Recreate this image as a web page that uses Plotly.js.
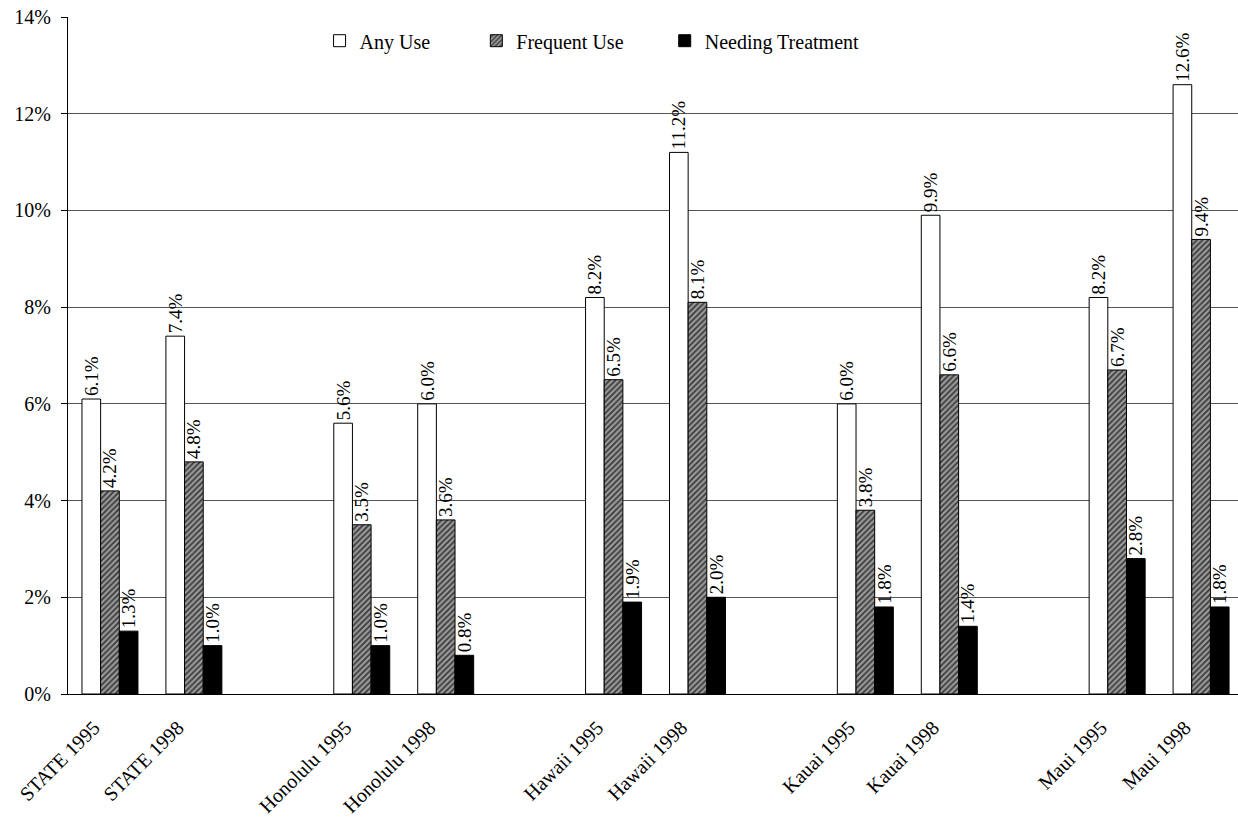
<!DOCTYPE html>
<html>
<head>
<meta charset="utf-8">
<script src="https://cdn.plot.ly/plotly-3.0.1.min.js"></script>
<style>
  html, body { margin: 0; padding: 0; background: #fff; }
  #chart { width: 1238px; height: 822px; }
</style>
</head>
<body>
<div id="chart"></div>
<script>
// Survey groups shown on the x axis
const categories = [
  'STATE 1995', 'STATE 1998',
  'Honolulu 1995', 'Honolulu 1998',
  'Hawaii 1995', 'Hawaii 1998',
  'Kauai 1995', 'Kauai 1998',
  'Maui 1995', 'Maui 1998'
];

// Axis order, with empty slots separating each county
const axisOrder = [
  'STATE 1995', 'STATE 1998', ' gap1',
  'Honolulu 1995', 'Honolulu 1998', ' gap2',
  'Hawaii 1995', 'Hawaii 1998', ' gap3',
  'Kauai 1995', 'Kauai 1998', ' gap4',
  'Maui 1995', 'Maui 1998'
];

// Percent of respondents
const anyUse = [6.1, 7.4, 5.6, 6.0, 8.2, 11.2, 6.0, 9.9, 8.2, 12.6];
const frequentUse = [4.2, 4.8, 3.5, 3.6, 6.5, 8.1, 3.8, 6.6, 6.7, 9.4];
const needingTreatment = [1.3, 1.0, 1.0, 0.8, 1.9, 2.0, 1.8, 1.4, 2.8, 1.8];

const yTicks = [0, 2, 4, 6, 8, 10, 12, 14];

const serif = 'Liberation Serif';
const labelFont = { family: serif, size: 19, color: '#000' };

function barTrace(name, values, marker, legendId) {
  return {
    type: 'bar',
    name: name,
    x: categories,
    y: values,
    marker: Object.assign({ line: { color: '#000', width: 1 } }, marker),
    text: values.map(v => v.toFixed(1) + '%'),
    textposition: 'outside',
    textangle: -90,
    textfont: labelFont,
    outsidetextfont: labelFont,
    constraintext: 'none',
    cliponaxis: false,
    legend: legendId,
    hoverinfo: 'x+y+name'
  };
}

const traces = [
  barTrace('Any Use', anyUse, { color: '#ffffff' }, 'legend'),
  barTrace('Frequent Use', frequentUse, {
    color: '#8a8a8a',
    pattern: { shape: '/', bgcolor: '#9a9a9a', fgcolor: '#3a3a3a', size: 4, solidity: 0.45 }
  }, 'legend2'),
  barTrace('Needing Treatment', needingTreatment, { color: '#000000' }, 'legend3')
];

const legendBase = {
  orientation: 'h',
  yanchor: 'middle',
  y: 0.965,
  xanchor: 'left',
  bgcolor: 'rgba(0,0,0,0)',
  borderwidth: 0,
  font: { family: serif, size: 20, color: '#000' },
  itemwidth: 30
};

const layout = {
  width: 1238,
  height: 822,
  paper_bgcolor: '#fff',
  plot_bgcolor: '#fff',
  font: { family: serif, size: 19, color: '#000' },
  margin: { l: 68, r: 0, t: 17, b: 128, pad: 0 },
  barmode: 'group',
  bargap: 0.333,
  bargroupgap: 0,
  showlegend: true,
  legend: Object.assign({}, legendBase, { x: 0.215 }),
  legend2: Object.assign({}, legendBase, { x: 0.349 }),
  legend3: Object.assign({}, legendBase, { x: 0.51 }),
  xaxis: {
    type: 'category',
    categoryorder: 'array',
    categoryarray: axisOrder,
    tickvals: categories,
    ticktext: categories,
    range: [-0.5, 13.44],
    tickangle: -45,
    tickfont: { family: serif, size: 20, color: '#000' },
    ticklabelshift: -16,
    ticklabelstandoff: 13,
    ticks: '',
    showgrid: false,
    showline: true,
    linecolor: '#000',
    linewidth: 1,
    zeroline: false,
    fixedrange: true
  },
  yaxis: {
    range: [0, 14],
    tickvals: yTicks,
    ticktext: yTicks.map(v => v + '%'),
    tickfont: { family: serif, size: 20, color: '#000' },
    ticks: 'outside',
    ticklen: 6,
    tickcolor: '#000',
    ticklabelstandoff: 6,
    showgrid: true,
    gridcolor: '#555',
    gridwidth: 1,
    showline: true,
    linecolor: '#000',
    linewidth: 1,
    zeroline: false,
    fixedrange: true
  }
};

Plotly.newPlot('chart', traces, layout, { displayModeBar: false, staticPlot: true });
</script>
</body>
</html>
